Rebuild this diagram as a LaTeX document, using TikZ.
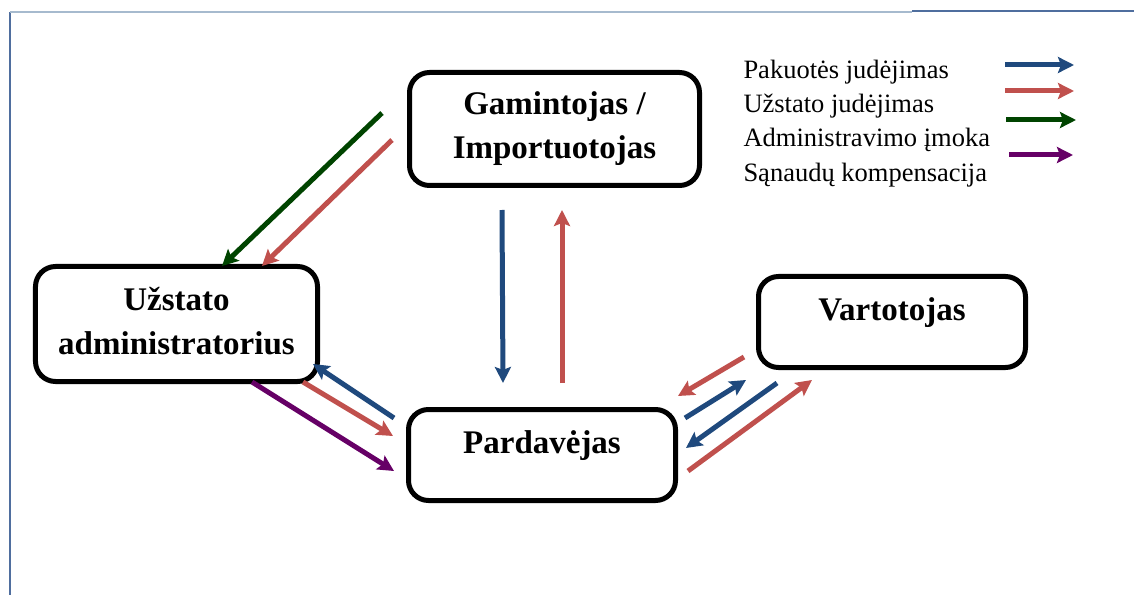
\documentclass[tikz,border=0pt]{standalone}
\usepackage{fontspec}
\setmainfont{Liberation Serif}
\usetikzlibrary{arrows.meta,positioning}

\definecolor{pakblue}{RGB}{31,73,125}
\definecolor{uzred}{RGB}{192,80,77}
\definecolor{admgreen}{RGB}{0,68,0}
\definecolor{sanpurple}{RGB}{102,0,102}
\definecolor{framelight}{RGB}{166,186,206}
\definecolor{framedark}{RGB}{79,110,158}

\begin{document}
\begin{tikzpicture}[x=1bp,y=-1bp,>={Stealth[length=16bp,width=16bp,inset=3bp]},
    line width=5bp,
    box/.style={draw,rounded corners=20bp,minimum width=267bp,minimum height=91bp},
    title/.style={font=\bfseries\fontsize{33bp}{44bp}\selectfont,align=center,inner sep=0pt},
    legend/.style={font=\fontsize{26.5bp}{32bp}\selectfont,anchor=west,inner sep=0pt},
    pakflow/.style={->,pakblue}, uzflow/.style={->,uzred},
    admflow/.style={->,admgreen}, sanflow/.style={->,sanpurple}]

  \useasboundingbox (0,0) rectangle (1134,595);
  \draw[line width=1.8bp,framedark] (10,12) -- (10,595);
  \draw[line width=1.2bp,framelight] (10,12) -- (912,12);
  \draw[line width=2bp,framedark] (912,11) -- (1134,11);

  \node[box,minimum width=290bp,minimum height=113bp] (gam)  at (554.5,129) {};
  \node[box,minimum width=282bp,minimum height=115bp] (adm)  at (176.5,324) {};
  \node[box]                                          (pard) at (542,455) {};
  \node[box]                                          (vart) at (892,322) {};

  \node[title] (gamt)  at (gam.center) {Gamintojas /\\Importuotojas};
  \node[title] (admt)  at ([yshift=3bp]adm.center) {Užstato\\administratorius};
  \node[title] (pardt) at ([yshift=9bp]pard.center) {Pardavėjas};
  \node[title] (vartt) at ([yshift=9bp]vart.center) {Vartotojas};

  \node[legend] (l1) at (741,72)  {Pakuotės judėjimas};
  \node[legend] (l2) at (741,106) {Užstato judėjimas};
  \node[legend] (l3) at (741,140) {Administravimo įmoka};
  \node[legend] (l4) at (741,175) {Sąnaudų kompensacija};

  \coordinate (l1a) at (1005,65);   \coordinate (l1b) at (1074,65);
  \coordinate (l2a) at (1005,91);   \coordinate (l2b) at (1074,91);
  \coordinate (l3a) at (1006,120);  \coordinate (l3b) at (1076,120);
  \coordinate (l4a) at (1009,155);  \coordinate (l4b) at (1073,155);

  \coordinate (ga1) at (382,113);   \coordinate (ga2) at (222,266);
  \coordinate (ga3) at (392,140);   \coordinate (ga4) at (262,266);
  \coordinate (gp1) at (502,210);   \coordinate (gp2) at (503,383);
  \coordinate (gp3) at (562,383);   \coordinate (gp4) at (562,210);
  \coordinate (ap1) at (394,418);   \coordinate (ap2) at (313,364);
  \coordinate (ap3) at (303,382);   \coordinate (ap4) at (393,436);
  \coordinate (ap5) at (252,382);   \coordinate (ap6) at (394,471);
  \coordinate (pv1) at (744,357);   \coordinate (pv2) at (678,396);
  \coordinate (pv3) at (685,418);   \coordinate (pv4) at (746,380);
  \coordinate (pv5) at (777,383);   \coordinate (pv6) at (686,448);
  \coordinate (pv7) at (688,471);   \coordinate (pv8) at (812,380);

  \path (l1a) edge[pakflow] (l1b)
        (l2a) edge[uzflow]  (l2b)
        (l3a) edge[admflow] (l3b)
        (l4a) edge[sanflow] (l4b)

        (ga1) edge[admflow] (ga2)
        (ga3) edge[uzflow]  (ga4)
        (gp1) edge[pakflow] (gp2)
        (gp3) edge[uzflow]  (gp4)

        (ap1) edge[pakflow] (ap2)
        (ap3) edge[uzflow]  (ap4)
        (ap5) edge[sanflow] (ap6)

        (pv1) edge[uzflow]  (pv2)
        (pv3) edge[pakflow] (pv4)
        (pv5) edge[pakflow] (pv6)
        (pv7) edge[uzflow]  (pv8)
        ;
\end{tikzpicture}
\end{document}
